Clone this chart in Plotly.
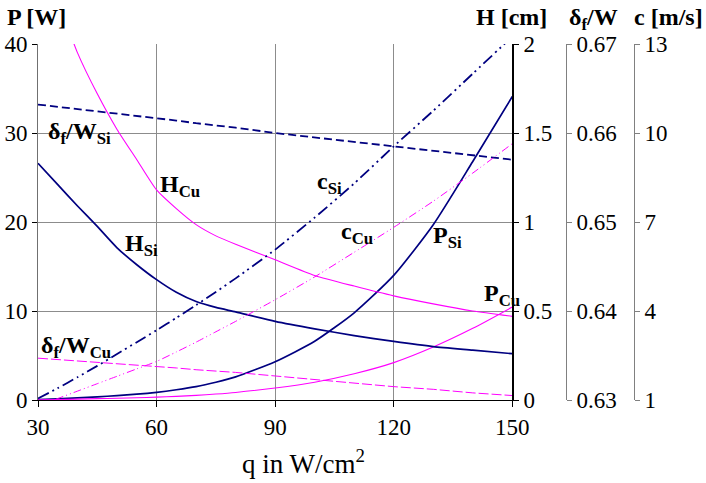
import plotly.graph_objects as go

q = [30, 35, 40, 45, 50, 55, 60, 65, 70, 75, 80, 90, 100, 110, 120, 130, 140, 150]

P_Si = [0.05, 0.12, 0.25, 0.35, 0.5, 0.65, 0.86, 1.15, 1.5, 2.0, 2.6, 4.3, 6.6, 9.8, 14.0, 19.7, 26.8, 34.1]
P_Cu = [0.02, 0.05, 0.1, 0.15, 0.2, 0.26, 0.32, 0.41, 0.52, 0.67, 0.85, 1.35, 2.0, 2.95, 4.2, 5.95, 8.05, 10.45]
H_Cu = [2.55, 2.25, 1.95, 1.72, 1.52, 1.35, 1.18, 1.075, 0.985, 0.922, 0.875, 0.788, 0.70, 0.64, 0.585, 0.54, 0.50, 0.47]
H_Si = [1.33, 1.21, 1.09, 0.975, 0.855, 0.76, 0.676, 0.605, 0.553, 0.52, 0.495, 0.442, 0.40, 0.362, 0.329, 0.30, 0.28, 0.26]
c_Si = [1.05, 1.4, 1.77, 2.15, 2.55, 2.95, 3.35, 3.77, 4.2, 4.64, 5.1, 6.07, 7.15, 8.3, 9.55, 10.75, 12.0, 13.25]
c_Cu = [0.8, 1.05, 1.3, 1.55, 1.8, 2.05, 2.3, 2.62, 2.95, 3.3, 3.65, 4.38, 5.15, 5.98, 6.82, 7.7, 8.65, 9.64]
dW_Si = [0.6632, 0.66295, 0.6627, 0.66245, 0.6622, 0.66195, 0.6617, 0.6614, 0.6611, 0.66085, 0.6606,
         0.6600, 0.6595, 0.6590, 0.6585, 0.6580, 0.6575, 0.6570]
dW_Cu = [0.6347, 0.63455, 0.6344, 0.63425, 0.6341, 0.63395, 0.6338, 0.6336, 0.6334, 0.63325, 0.6331,
         0.6327, 0.6323, 0.6319, 0.6315, 0.6312, 0.6308, 0.6305]

x_ticks = [30, 60, 90, 120, 150]
P_ticks = [0, 10, 20, 30, 40]
H_ticks = [0, 0.5, 1, 1.5, 2]
H_tick_text = ["0", "0.5", "1", "1.5", "2"]
dW_ticks = [0.63, 0.64, 0.65, 0.66, 0.67]
c_ticks = [1, 4, 7, 10, 13]

NAVY = "#000080"
MAG = "#FF00FF"
FONT = "Liberation Serif"

fig = go.Figure()
def add(y, axis, color, width, dash="solid", spline=True):
    fig.add_trace(go.Scatter(x=q, y=y, mode="lines", yaxis=axis, hoverinfo="skip",
                             line=dict(color=color, width=width, dash=dash,
                                       shape="spline" if spline else "linear",
                                       smoothing=0.6)))

add(P_Si, "y", NAVY, 1.7)
add(P_Cu, "y", MAG, 1.1)
add(H_Cu, "y2", MAG, 1.1)
add(H_Si, "y2", NAVY, 1.7)
add(dW_Si, "y3", NAVY, 1.8, "8px,4px", False)
add(dW_Cu, "y3", MAG, 1, "10px,3px", False)
add(c_Si, "y4", NAVY, 1.8, "12px,4px,2px,4px,2px,4px")
add(c_Cu, "y4", MAG, 1, "8px,3px,1px,3px,1px,3px")

W = 628.0
def px(v):
    return (v - 38) / W

tickfont = dict(family=FONT, size=23, color="black")

fig.update_layout(
    width=706, height=483,
    margin=dict(l=38, r=40, t=44, b=83, autoexpand=False),
    paper_bgcolor="white", plot_bgcolor="white",
    showlegend=False, hovermode=False,
    font=dict(family=FONT, color="black"),
    xaxis=dict(domain=[0, px(512.3)], range=[30, 150], tickvals=x_ticks,
               showgrid=True, gridcolor="#8c8c8c", gridwidth=1,
               showline=True, linecolor="black", linewidth=1,
               ticks="outside", ticklen=6, tickcolor="black",
               tickfont=tickfont, zeroline=False, automargin=False),
    yaxis=dict(range=[0, 40], tickvals=P_ticks, showgrid=True,
               gridcolor="#8c8c8c", gridwidth=1,
               showline=True, linecolor="#707070", linewidth=1,
               ticks="outside", ticklen=5, tickcolor="black",
               tickfont=tickfont, zeroline=False, automargin=False),
    yaxis2=dict(range=[0, 2], tickvals=H_ticks, ticktext=H_tick_text,
                overlaying="y", side="right", anchor="x", showgrid=False,
                showline=True, linecolor="black", linewidth=1.5,
                ticks="outside", ticklen=5, tickcolor="black",
                tickfont=tickfont, zeroline=False, automargin=False),
    yaxis3=dict(range=[0.63, 0.67], tickvals=dW_ticks, tickformat=".2f",
                overlaying="y", side="right", anchor="free", position=px(565.5),
                showgrid=False, showline=True, linecolor="#808080", linewidth=1.5,
                ticks="outside", ticklen=5, tickcolor="#808080",
                tickfont=tickfont, zeroline=False, automargin=False),
    yaxis4=dict(range=[1, 13], tickvals=c_ticks,
                overlaying="y", side="right", anchor="free", position=px(633.5),
                showgrid=False, showline=True, linecolor="#808080", linewidth=1.5,
                ticks="outside", ticklen=5, tickcolor="#808080",
                tickfont=tickfont, zeroline=False, automargin=False),
)

def ypp(py):
    return (400.3 - py) / 356.0

title_font = dict(family=FONT, size=24, color="black")
annos = [
    dict(text="<b>P [W]</b>", x=px(5), y=ypp(17), xanchor="left"),
    dict(text="<b>H [cm]</b>", x=px(549), y=ypp(17), xanchor="right"),
    dict(text="<b>δ<sub>f</sub>/W</b>", x=px(567), y=ypp(19), xanchor="left"),
    dict(text="<b>c [m/s]</b>", x=px(632), y=ypp(17), xanchor="left"),
]
for a in annos:
    fig.add_annotation(xref="paper", yref="paper", yanchor="middle",
                       showarrow=False, font=title_font, **a)

fig.add_annotation(text="q in W/cm<sup>2</sup>", xref="paper", yref="paper",
                   x=px(303), y=ypp(462), xanchor="center", yanchor="middle",
                   showarrow=False, font=dict(family=FONT, size=27, color="black"))

lab_font = dict(family=FONT, size=24, color="black")
labels = [
    ("<b>δ<sub>f</sub>/W<sub>Si</sub></b>", 40.6, 30.0),
    ("<b>H<sub>Cu</sub></b>", 65.9, 24.0),
    ("<b>H<sub>Si</sub></b>", 56.3, 17.4),
    ("<b>c<sub>Si</sub></b>", 103.8, 24.4),
    ("<b>c<sub>Cu</sub></b>", 110.7, 18.8),
    ("<b>P<sub>Si</sub></b>", 133.7, 18.3),
    ("<b>P<sub>Cu</sub></b>", 147.3, 11.8),
    ("<b>δ<sub>f</sub>/W<sub>Cu</sub></b>", 39.6, 6.0),
]
for t, xx, yy in labels:
    fig.add_annotation(text=t, x=xx, y=yy, xref="x", yref="y", showarrow=False,
                       xanchor="center", yanchor="middle", font=lab_font)

fig.write_html("out.html", config={"displayModeBar": False, "staticPlot": True},
               post_script="document.body.style.margin='0';document.body.style.overflow='hidden';")
